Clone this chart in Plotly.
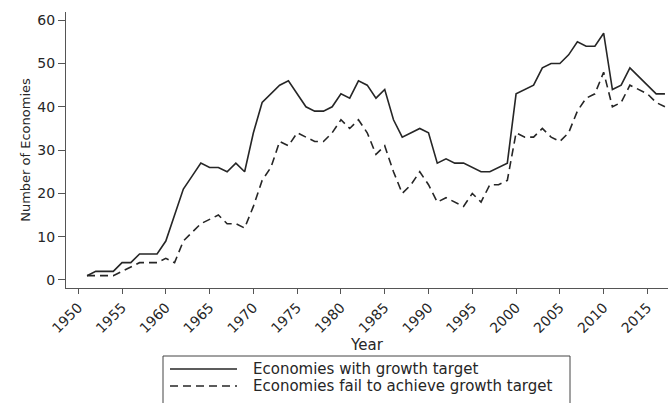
import plotly.graph_objects as go

years = list(range(1951, 2018))
with_target = [1, 2, 2, 2, 4, 4, 6, 6, 6, 9,
               15, 21, 24, 27, 26, 26, 25, 27, 25, 34,
               41, 43, 45, 46, 43, 40, 39, 39, 40, 43,
               42, 46, 45, 42, 44, 37, 33, 34, 35, 34,
               27, 28, 27, 27, 26, 25, 25, 26, 27, 43,
               44, 45, 49, 50, 50, 52, 55, 54, 54, 57,
               44, 45, 49, 47, 45, 43, 43]
fail_target = [1, 1, 1, 1, 2, 3, 4, 4, 4, 5,
               4, 9, 11, 13, 14, 15, 13, 13, 12, 17,
               23, 26, 32, 31, 34, 33, 32, 32, 34, 37,
               35, 37, 34, 29, 31, 25, 20, 22, 25, 22,
               18, 19, 18, 17, 20, 18, 22, 22, 23, 34,
               33, 33, 35, 33, 32, 34, 39, 42, 43, 48,
               40, 41, 45, 44, 43, 41, 40]
series_names = ["Economies with growth target",
                "Economies fail to achieve growth target"]
x_ticks = list(range(1950, 2016, 5))
y_ticks = [0, 10, 20, 30, 40, 50, 60]

font_family = "DejaVu Sans, Verdana, sans-serif"
ink = "#262626"
axis_col = "#555555"
styles = [dict(color=ink, width=1.6),
          dict(color=ink, width=1.6, dash="8px,5px")]

# figure geometry (pixels)
W, H = 668, 403
ML, MR, MT, MB = 66, 0, 12, 115
PW, PH = W - ML - MR, H - MT - MB


def px_x(p):
    return (p - ML) / PW


def px_y(p):
    return (H - MB - p) / PH


fig = go.Figure()
for vals, name, st in zip([with_target, fail_target], series_names, styles):
    fig.add_trace(go.Scatter(x=years, y=vals, mode="lines", name=name,
                             line=st, showlegend=False))

# legend box drawn in paper coordinates (Stata-style legend below the axis)
shapes = [dict(type="rect", xref="paper", yref="paper",
               x0=px_x(163), x1=px_x(570), y0=px_y(356), y1=px_y(420),
               line=dict(color="#444444", width=1), fillcolor="white",
               layer="above")]
annotations = []
for i, (name, st) in enumerate(zip(series_names, styles)):
    yy = px_y(369 + 17 * i)
    shapes.append(dict(type="line", xref="paper", yref="paper",
                       x0=px_x(170), x1=px_x(237), y0=yy, y1=yy,
                       line=st, layer="above"))
    annotations.append(dict(text=name, xref="paper", yref="paper",
                            x=px_x(252), y=yy, xanchor="left",
                            yanchor="middle", showarrow=False,
                            borderpad=0,
                            font=dict(size=15, color=ink)))

fig.update_layout(
    width=W, height=H,
    margin=dict(l=ML, r=MR, t=MT, b=MB, autoexpand=False),
    paper_bgcolor="white", plot_bgcolor="white",
    font=dict(family=font_family, size=15, color=ink),
    showlegend=False,
    shapes=shapes, annotations=annotations,
)
fig.update_xaxes(range=[1948.6, 2017.35], tickvals=x_ticks,
                 ticktext=[str(v) for v in x_ticks], tickangle=-45,
                 showgrid=False, zeroline=False, showline=True,
                 linecolor=axis_col, linewidth=1, ticks="outside",
                 ticklen=5, tickcolor=axis_col, automargin=False,
                 tickfont=dict(size=14),
                 title=dict(text="Year", standoff=0, font=dict(size=15)))
fig.update_yaxes(range=[-1.85, 61.9], tickvals=y_ticks,
                 showgrid=False, zeroline=False, showline=True,
                 linecolor=axis_col, linewidth=1, ticks="outside",
                 ticklen=7, tickcolor=axis_col, automargin=False,
                 tickfont=dict(size=14),
                 title=dict(text="Number of Economies", standoff=3,
                            font=dict(size=13)))

fig.write_html("out.html", config={"displayModeBar": False},
               post_script="document.body.style.margin='0';")
